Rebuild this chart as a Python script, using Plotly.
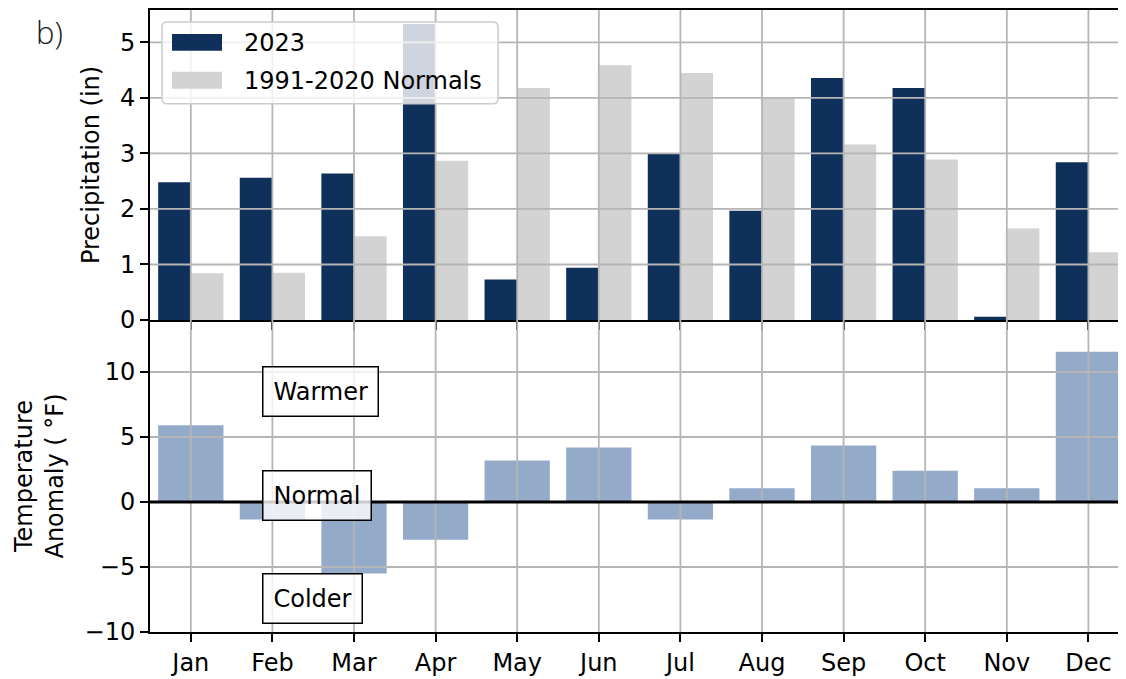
import plotly.graph_objects as go

# ---------------- data ----------------
months = ["Jan", "Feb", "Mar", "Apr", "May", "Jun", "Jul", "Aug", "Sep", "Oct", "Nov", "Dec"]
precip_2023 = [2.48, 2.56, 2.64, 5.33, 0.73, 0.94, 3.00, 1.97, 4.36, 4.18, 0.06, 2.84]
precip_normals = [0.84, 0.85, 1.51, 2.87, 4.18, 4.59, 4.45, 4.00, 3.16, 2.89, 1.65, 1.22]
temp_anomaly = [5.9, -1.35, -5.5, -2.9, 3.2, 4.2, -1.35, 1.05, 4.35, 2.4, 1.05, 11.55]
precip_ticks = [0, 1, 2, 3, 4, 5]
temp_ticks = [-10, -5, 0, 5, 10]
legend_labels = ["2023", "1991-2020 Normals"]
zone_labels = ["Warmer", "Normal", "Colder"]
zone_y = [8.5, 0.5, -7.45]

# ---------------- style ----------------
# page body has an 8px margin, so the figure is offset by 8px in the window
OFF = 8
W, H = 1126 - OFF, 679 - OFF
ML, MR, MT, MB = 150 - OFF, 0, 0, 47
PW, PH = W - ML - MR, H - MT - MB
C_2023 = "#0f305a"
C_NORM = "#d3d3d3"
C_TEMP = "#93abc9"
C_GRID = "#b5b5b5"
FONT = "DejaVu Sans"
FS = 24
split = 313 / PH


def px_x(px):
    # px in window coordinates
    return (px - OFF - ML) / PW


def px_y(py):
    return (H - MB - (py - OFF)) / PH


fig = go.Figure()
fig.add_trace(go.Bar(x=months, y=precip_2023, name=legend_labels[0], marker_color=C_2023,
                     marker_line_width=0, width=0.4, offset=-0.4, xaxis="x", yaxis="y",
                     showlegend=False))
fig.add_trace(go.Bar(x=months, y=precip_normals, name=legend_labels[1], marker_color=C_NORM,
                     marker_line_width=0, width=0.4, offset=0.0, xaxis="x", yaxis="y",
                     showlegend=False))
fig.add_trace(go.Bar(x=months, y=temp_anomaly, name="Temperature anomaly", marker_color=C_TEMP,
                     marker_line_width=0, width=0.8, xaxis="x2", yaxis="y2", showlegend=False))

axis_common = dict(showline=True, linecolor="black", linewidth=2, ticks="outside", ticklen=8,
                   tickwidth=2, tickcolor="black", showgrid=False, zeroline=False,
                   tickfont=dict(family=FONT, size=FS, color="black"))
xr = [-0.5, -0.5 + PW / 81.6]
top_h = PH - 313

fig.update_layout(
    width=W, height=H, margin=dict(l=ML, r=MR, t=MT, b=MB),
    paper_bgcolor="white", plot_bgcolor="white", barmode="overlay", showlegend=False,
    font=dict(family=FONT, size=FS, color="black"),
    xaxis=dict(axis_common, domain=[0, 1], anchor="y", range=xr, type="category",
               showticklabels=False, mirror=True),
    xaxis2=dict(axis_common, domain=[0, 1], anchor="y2", range=xr, type="category",
                matches="x"),
    yaxis=dict(axis_common, domain=[split, 1], anchor="x", range=[0, top_h / 55.7],
               tickvals=precip_ticks,
               title=dict(text="Precipitation (in)", standoff=14,
                          font=dict(family=FONT, size=FS, color="black"))),
    yaxis2=dict(axis_common, domain=[0, split], anchor="x2", range=[-10, 14],
                tickvals=temp_ticks,
                title=dict(text="Temperature<br>Anomaly ( °F)", standoff=14,
                           font=dict(family=FONT, size=FS, color="black"))),
)

shapes = []
# grid lines drawn above the bars (as in the reference)
for xa, ya in (("x", "y"), ("x2", "y2")):
    for m in months:
        shapes.append(dict(type="line", xref=xa, yref=ya + " domain", x0=m, x1=m, y0=0, y1=1,
                           line=dict(color=C_GRID, width=1.8), layer="above"))
for v in precip_ticks[1:]:
    shapes.append(dict(type="line", xref="x domain", yref="y", x0=0, x1=1, y0=v, y1=v,
                       line=dict(color=C_GRID, width=1.8), layer="above"))
for v in temp_ticks[1:]:
    shapes.append(dict(type="line", xref="x2 domain", yref="y2", x0=0, x1=1, y0=v, y1=v,
                       line=dict(color=C_GRID, width=1.8), layer="above"))
# zero line
shapes.append(dict(type="line", xref="x2 domain", yref="y2", x0=0, x1=1, y0=0, y1=0,
                   line=dict(color="black", width=3), layer="above"))


# legend box (rounded)
def rounded_rect(x0, y0, x1, y1, r):
    pts = [
        f"M {px_x(x0 + r)},{px_y(y0)}",
        f"L {px_x(x1 - r)},{px_y(y0)}",
        f"Q {px_x(x1)},{px_y(y0)} {px_x(x1)},{px_y(y0 + r)}",
        f"L {px_x(x1)},{px_y(y1 - r)}",
        f"Q {px_x(x1)},{px_y(y1)} {px_x(x1 - r)},{px_y(y1)}",
        f"L {px_x(x0 + r)},{px_y(y1)}",
        f"Q {px_x(x0)},{px_y(y1)} {px_x(x0)},{px_y(y1 - r)}",
        f"L {px_x(x0)},{px_y(y0 + r)}",
        f"Q {px_x(x0)},{px_y(y0)} {px_x(x0 + r)},{px_y(y0)} Z",
    ]
    return " ".join(pts)


shapes.append(dict(type="path", xref="paper", yref="paper", path=rounded_rect(162, 20, 498, 102, 5),
                   fillcolor="rgba(255,255,255,0.8)", line=dict(color="#cccccc", width=1.5),
                   layer="above"))
legend_colors = [C_2023, C_NORM]
legend_rows = [32, 70]
annotations = []
for lab, col, ry in zip(legend_labels, legend_colors, legend_rows):
    shapes.append(dict(type="rect", xref="paper", yref="paper", x0=px_x(172), x1=px_x(222),
                       y0=px_y(ry + 17), y1=px_y(ry), fillcolor=col, line=dict(width=0),
                       layer="above"))
    annotations.append(dict(text=lab, xref="paper", yref="paper", x=px_x(242), y=px_y(ry + 9),
                            xanchor="left", yanchor="middle", showarrow=False,
                            font=dict(family=FONT, size=FS, color="black")))

for lab, yv in zip(zone_labels, zone_y):
    annotations.append(dict(text=lab, xref="x2", yref="y2", x=0.87, y=yv, xanchor="left",
                            yanchor="middle", showarrow=False, bordercolor="black",
                            borderwidth=1.5, borderpad=10, bgcolor="rgba(255,255,255,0.8)",
                            font=dict(family=FONT, size=FS, color="black")))

annotations.append(dict(text="b)", xref="paper", yref="paper", x=px_x(49), y=px_y(OFF),
                        xanchor="center", yanchor="top", showarrow=False, borderpad=0,
                        font=dict(family="Open Sans", size=31, color="#1a1a1a", weight=300)))

fig.update_layout(shapes=shapes, annotations=annotations)
fig.write_html("out.html")
